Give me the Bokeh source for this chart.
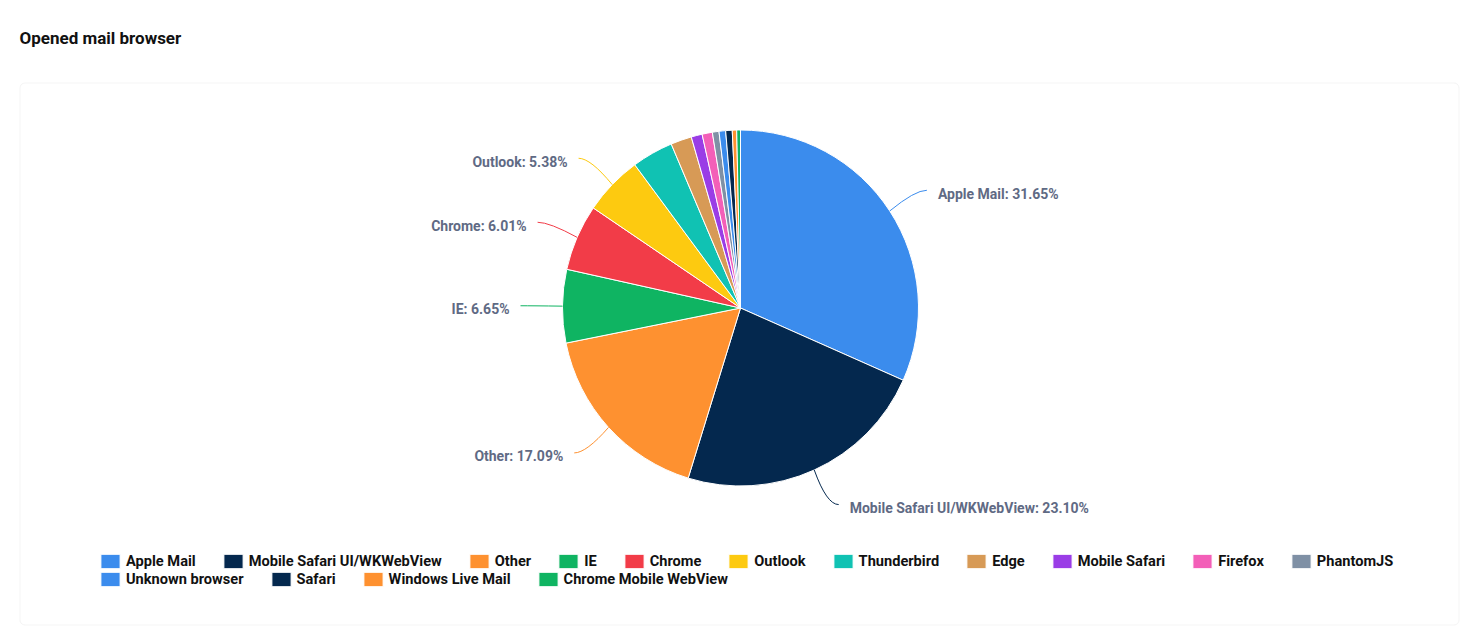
import math
from bokeh.plotting import figure
from bokeh.models import (ColumnDataSource, Range1d, Legend, LegendItem, Label,
                          BoxAnnotation)
from bokeh.core.properties import value
from bokeh.embed import file_html
from bokeh.resources import INLINE

# ---- data ----
browsers = ["Apple Mail", "Mobile Safari UI/WKWebView", "Other", "IE", "Chrome",
            "Outlook", "Thunderbird", "Edge", "Mobile Safari", "Firefox",
            "PhantomJS", "Unknown browser", "Safari", "Windows Live Mail",
            "Chrome Mobile WebView"]
shares = [31.65, 23.10, 17.09, 6.65, 6.01, 5.38, 3.76, 1.90, 1.00, 0.93,
          0.60, 0.60, 0.59, 0.40, 0.34]
colors = ["#3b8ced", "#04284e", "#fe9130", "#0fb462", "#f23c48", "#fdca10",
          "#10c2b3", "#d79a56", "#9a3de6", "#f35fb8", "#7f90a5",
          "#3b8ced", "#04284e", "#fe9130", "#0fb462"]
title_text = "Opened mail browser"

# ---- layout ----
W, H = 1466, 626
FONT = "Roboto"

def px(x):  # page x -> data x
    return x

def py(y):  # page y -> data y
    return H - y

cx, cy, r = px(740), py(307.5), 178.0

p = figure(width=W, height=H, x_range=Range1d(0, W), y_range=Range1d(0, H),
           x_axis_type=None, y_axis_type=None, toolbar_location=None,
           output_backend="svg", min_border=0, outline_line_color=None,
           background_fill_color="white", border_fill_color="white")
p.grid.visible = False

# card
card = BoxAnnotation(left=px(19.5), right=px(1458.5), top=py(82.5), bottom=py(624.5),
                     fill_alpha=0, line_color="#d9d9d9", line_width=1,
                     border_radius=5, level="underlay")
p.add_layout(card)

# title
p.add_layout(Label(x=px(19), y=py(37), text=title_text, text_font=FONT,
                   text_font_size="17px", text_font_style="bold",
                   text_color="#111111", text_baseline="middle"))

# ---- wedges ----
total = sum(shares)
starts, ends, mids = [], [], []
cum = 0.0
for s in shares:
    a0 = cum / total * 2 * math.pi
    cum += s
    a1 = cum / total * 2 * math.pi
    starts.append(math.pi / 2 - a0)
    ends.append(math.pi / 2 - a1)
    mids.append((a0 + a1) / 2)

src = ColumnDataSource(dict(name=browsers, share=shares, color=colors,
                            start=starts, end=ends))
wr = p.wedge(x=cx, y=cy, radius=r, start_angle="start", end_angle="end",
             direction="clock", fill_color="color", line_color="white",
             line_width=1, source=src)

# ---- data labels with connectors ----
lab = dict(x0=[], y0=[], x1=[], y1=[], qx=[], qy=[], tx=[], ty=[], text=[],
           align=[], color=[])
for name, s, col, a in zip(browsers, shares, colors, mids):
    if s < 5:
        continue
    sa, ca = math.sin(a), math.cos(a)
    side = 1 if sa >= 0 else -1
    ax_, ay_ = cx + r * sa, cy + r * ca
    lx = cx + (r + 30) * sa
    ly = cy + (r + 38) * ca
    lab["x0"].append(ax_)
    lab["y0"].append(ay_)
    lab["qx"].append(lx)
    lab["qy"].append(ly)
    lab["x1"].append(lx + side * 12)
    lab["y1"].append(ly)
    lab["tx"].append(lx + side * 23)
    lab["ty"].append(ly - 3.5)
    lab["text"].append(f"{name}: {s:.2f}%")
    lab["align"].append("left" if side > 0 else "right")
    lab["color"].append(col)
lsrc = ColumnDataSource(lab)
p.quadratic(x0="x0", y0="y0", x1="x1", y1="y1", cx="qx", cy="qy",
            line_color="color", line_width=1, source=lsrc)
p.text(x="tx", y="ty", text="text", text_align="align", text_baseline="middle",
       text_font=value(FONT), text_font_size="14px", text_font_style="bold",
       text_color="#5f6a84", source=lsrc)

# ---- legend (two flowing rows) ----
row1 = list(range(0, 11))
row2 = list(range(11, 15))

GH = 18
GW = 24

def make_legend(idx, loc):
    items = [LegendItem(label=browsers[i], renderers=[wr], index=i) for i in idx]
    lg = Legend(items=items, orientation="horizontal", location=loc,
                glyph_width=GW, glyph_height=GH, label_height=GH, label_width=0,
                label_standoff=4, spacing=25, padding=0, margin=0,
                border_line_color=None, background_fill_alpha=0,
                label_text_font=FONT, label_text_font_size="14.6px",
                label_text_font_style="bold", label_text_color="#111111")
    return lg

p.add_layout(make_legend(row1, (px(98), py(561 + GH // 2))))
p.add_layout(make_legend(row2, (px(98), py(579 + GH // 2))))

open("out.html", "w").write(file_html(p, INLINE))
